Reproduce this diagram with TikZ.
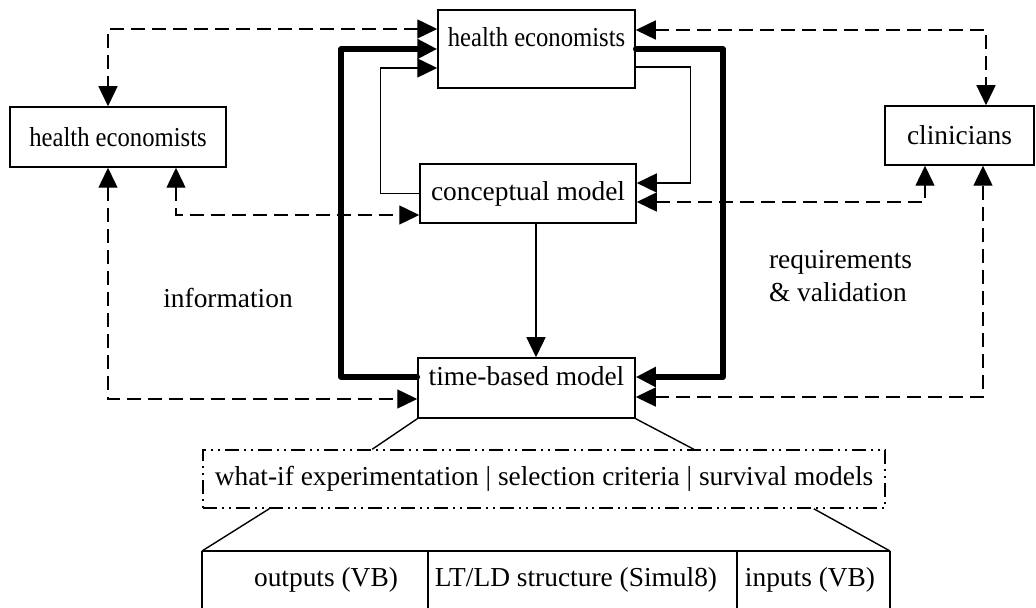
\documentclass[tikz,border=0pt]{standalone}
\usepackage{fontspec}
\setmainfont{Liberation Serif}
\usepackage{graphicx}
\usetikzlibrary{arrows.meta,positioning,calc}

\begin{document}
\begin{tikzpicture}[x=0.5pt,y=-0.5pt,
  font=\fontsize{13.7}{16.5}\selectfont,
  >={Triangle[length=10pt,width=9.5pt]},
  box/.style={draw,line width=0.75pt,inner sep=0pt},
  upper/.style={text height=8.4pt,text depth=10.4pt},
  thin/.style={line width=0.7pt},
  dsh/.style={line width=0.7pt,dash pattern=on 7pt off 3.5pt},
  heavy/.style={line width=2.8pt,line cap=round,line join=round}]
  \useasboundingbox (0,0) rectangle (1036,608);
  % Actors and models
  \node[box,upper,minimum width=98.5pt,minimum height=39pt] (he1) at (536.5,49) {\scalebox{0.9}[1]{health economists}};
  \node[box,minimum width=108pt,minimum height=30pt] (hel) at (118,137) {\scalebox{0.9}[1]{health economists}};
  \node[box,minimum width=74.5pt,minimum height=29.5pt] (cl) at (959.5,135.5) {clinicians};
  \node[box,minimum width=108pt,minimum height=29.5pt] (cm) at (528,193.5) {conceptual model};
  \node[box,upper,minimum width=108.5pt,minimum height=30pt] (tb) at (526.5,388) {time-based model};
  % Labels
  \node (info) at (228,298) {information};
  \node[align=left,anchor=west] (req) at (762,276) {requirements\\\& validation};
  % Dashed exchanges
  \draw[dsh,<->] ([yshift=10pt]he1.west) -| ([xshift=-5pt]hel.north);
  \draw[dsh,<->] ([yshift=9.5pt]he1.east) -| ([xshift=13.25pt]cl.north);
  \draw[dsh,<->] ([xshift=29pt]hel.south) |- ([yshift=-10.75pt]cm.west);
  \draw[dsh,<->] ([xshift=-5pt]hel.south) |- ([yshift=-5.5pt]tb.west);
  \draw[dsh,<->] ([yshift=-4.25pt]cm.east) -| ([xshift=-17.25pt]cl.south);
  \draw[dsh,<->] ([yshift=-4.5pt]tb.east) -| ([xshift=11.75pt]cl.south);
  % Thin loop
  \draw[thin,->] (cm.west) -- ++(-39,0) |- ([yshift=-9.5pt]he1.west);
  \draw[thin,->] ([yshift=-9pt]he1.east) -- ++(55,0) |- ([yshift=5.25pt]cm.east);
  \draw[thin,->] ([xshift=4pt]cm.south) -- ([xshift=4pt]cm.south |- tb.north);
  % Heavy loop
  \draw[heavy,->] ([yshift=5.5pt]tb.west) -- ++(-76,0) |- (he1.west);
  \draw[heavy,->] (he1.east) -- ++(87,0) |- ([yshift=5.5pt]tb.east);
  % What-if band
  \node[box,dash pattern=on 7pt off 2.5pt on 1pt off 2.5pt on 1pt off 2.5pt,minimum width=341pt,minimum height=29pt] (wi) at (544,479) {what-if experimentation | selection criteria | survival models};
  \draw[thin] (tb.south west) -- ([xshift=85pt]wi.north west);
  \draw[thin] (tb.south east) -- ([xshift=-96pt]wi.north east);
  % Implementation layer
  \coordinate (t1) at (202,551);
  \coordinate (t2) at (428,551);
  \coordinate (t3) at (737,551);
  \coordinate (t4) at (890,551);
  \draw[thin] ([xshift=33.5pt]wi.south west) -- (t1);
  \draw[thin] ([xshift=-36pt]wi.south east) -- (t4);
  \draw[line width=1pt] (t1) -- (t4);
  \foreach \c in {t1,t2,t3,t4}
    \draw[line width=0.75pt] (\c) -- (\c |- 0,608);
  \node (out) at (326,580) {outputs (VB)};
  \node (lt) at (576,580) {LT/LD structure (Simul8)};
  \node (inp) at (810,580) {inputs (VB)};
\end{tikzpicture}
\end{document}
